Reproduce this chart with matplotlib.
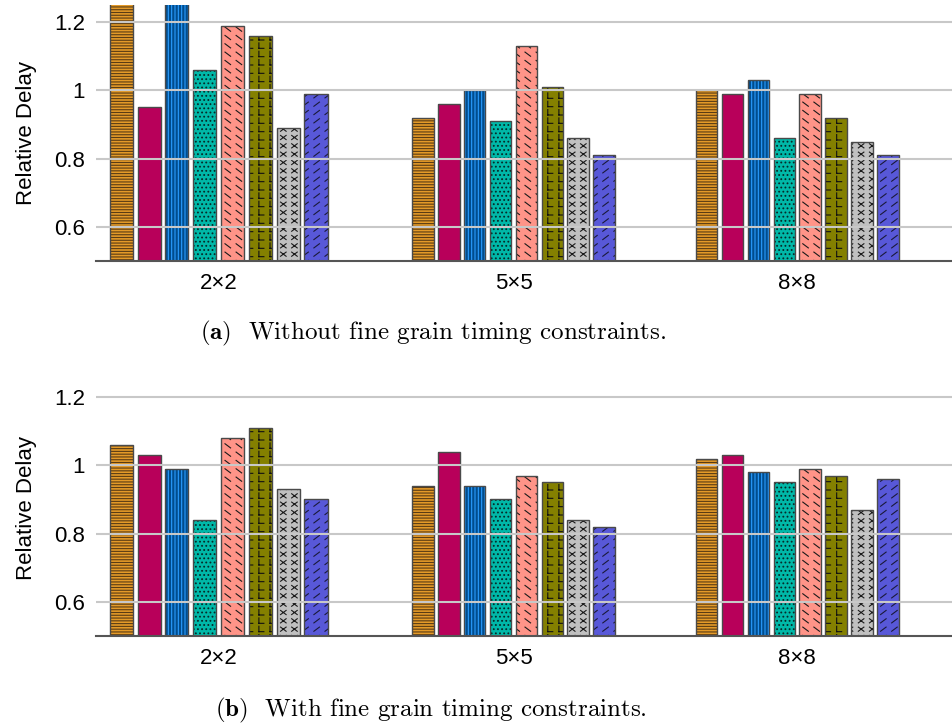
import warnings
import numpy as np
import matplotlib.pyplot as plt
from matplotlib import hatch as mhatch
from matplotlib.path import Path

warnings.filterwarnings('ignore')
plt.rcParams['font.family'] = ['Liberation Sans', 'DejaVu Sans']
plt.rcParams['mathtext.fontset'] = 'cm'
plt.rcParams['hatch.linewidth'] = 0.8

groups = ['2×2', '5×5', '8×8']

# (a) without fine grain timing constraints, 8 bars per mesh size
a_2x2 = [1.35, 0.95, 1.35, 1.06, 1.19, 1.16, 0.89, 0.99]
a_5x5 = [0.92, 0.96, 1.00, 0.91, 1.13, 1.01, 0.86, 0.81]
a_8x8 = [1.00, 0.99, 1.03, 0.86, 0.99, 0.92, 0.85, 0.81]

# (b) with fine grain timing constraints
b_2x2 = [1.06, 1.03, 0.99, 0.84, 1.08, 1.11, 0.93, 0.90]
b_5x5 = [0.94, 1.04, 0.94, 0.90, 0.97, 0.95, 0.84, 0.82]
b_8x8 = [1.02, 1.03, 0.98, 0.95, 0.99, 0.97, 0.87, 0.96]

face_colors = ['#e49a28', '#b8005a', '#004c8c', '#00b8a8',
               '#ff9488', '#848000', '#c0c0c0', '#5858d8']
hatch_colors = ['#5a3c14', '#b8005a', '#2a9cff', '#062a28',
                '#1a1a1a', '#111111', '#1a1a1a', '#1a1a3a']
hatches = ['------', '', '|||||', '....', 'a', 'L', 'k', 'b']

group_x = [0, 10.6, 20.8]      # centres of the groups, in bar pitches
group_scale = [1.0, 0.93, 0.93]
bar_w = 0.83

# short-stroke hatch tiles: (cells per inch across, cells per inch up, segments in a cell)
tiles = {
    'a': (9, 12, [[(0.25, 0.75), (0.75, 0.25)]]),
    'b': (9, 12, [[(0.25, 0.25), (0.75, 0.75)]]),
    'L': (9, 12, [[(0.3, 0.85), (0.3, 0.2)], [(0.3, 0.2), (0.75, 0.2)]]),
    'k': (9, 12, [[(0.25, 0.25), (0.75, 0.75)], [(0.25, 0.75), (0.75, 0.25)]]),
}


class TileHatch(mhatch.HatchPatternBase):
    def __init__(self, hatch, density):
        self.active = [tiles[c] for c in tiles if c in hatch]
        self.num_vertices = sum(nx * ny * sum(len(s) for s in segs)
                                for nx, ny, segs in self.active)

    def set_vertices_and_codes(self, vertices, codes):
        k = 0
        for nx, ny, segs in self.active:
            for i in range(nx):
                for j in range(ny):
                    for seg in segs:
                        for m, (px, py) in enumerate(seg):
                            vertices[k] = ((i + px) / nx, (j + py) / ny)
                            codes[k] = Path.MOVETO if m == 0 else Path.LINETO
                            k += 1


mhatch._hatch_types.append(TileHatch)


def draw_panel(ax, values):
    for center, sc, vals in zip(group_x, group_scale, values):
        xs = center + sc * (np.arange(len(vals)) - 3.5)
        for i in range(len(vals)):
            ax.bar(xs[i], vals[i], bar_w * sc, color=face_colors[i], hatch=hatches[i],
                   edgecolor=hatch_colors[i], linewidth=0, zorder=1)
            ax.bar(xs[i], vals[i], bar_w * sc, fill=False, edgecolor='#4a4a4a',
                   linewidth=1.0, zorder=1.1)
    ax.set_ylim(0.5, 1.25)
    ax.set_xlim(-4.41, 26.4)
    ax.set_yticks([0.6, 0.8, 1.0, 1.2])
    ax.set_yticklabels(['0.6', '0.8', '1', '1.2'])
    ax.set_xticks(group_x)
    ax.set_xticklabels(groups)
    ax.tick_params(length=0, labelsize=16)
    ax.tick_params(axis='y', pad=8)
    ax.tick_params(axis='x', pad=9)
    ax.set_axisbelow(False)
    ax.yaxis.grid(True, color='#c8c8c8', lw=1.5)
    for s in ['left', 'top', 'right']:
        ax.spines[s].set_visible(False)
    ax.spines['bottom'].set_color('#555555')
    ax.spines['bottom'].set_linewidth(1.5)
    ax.set_ylabel('Relative Delay', fontsize=16, labelpad=12)


fig = plt.figure(figsize=(9.53, 7.27), dpi=100)
ax_a = fig.add_axes([0.1007, 0.641, 0.8993, 0.352])
ax_b = fig.add_axes([0.1007, 0.1252, 0.8993, 0.352])

draw_panel(ax_a, [a_2x2, a_5x5, a_8x8])
draw_panel(ax_b, [b_2x2, b_5x5, b_8x8])

fig.text(0.4544, 1 - 339 / 727, r'$\mathbf{(a)}$  Without fine grain timing constraints.',
         family='cmr10', fontsize=18, ha='center', va='baseline')
fig.text(0.4524, 1 - 716 / 727, r'$\mathbf{(b)}$  With fine grain timing constraints.',
         family='cmr10', fontsize=18, ha='center', va='baseline')

fig.savefig('out.png', dpi=100)
